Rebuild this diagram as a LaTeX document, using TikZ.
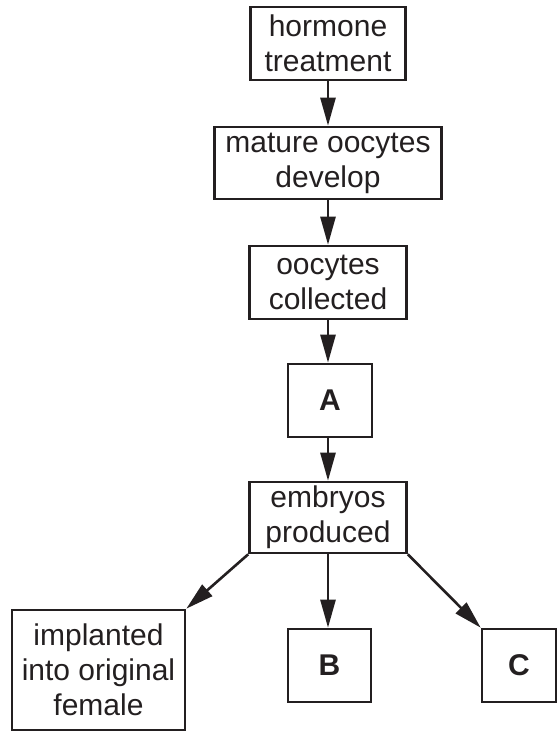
\documentclass[tikz,border=0pt]{standalone}
\usepackage{fontspec}
\setmainfont{Liberation Sans}
\usetikzlibrary{arrows.meta}
\definecolor{ink}{HTML}{231F20}
\begin{document}
\begin{tikzpicture}[x=1pt,y=-1pt,
            stagebox/.style={draw=ink, line width=2.6pt, text=ink, align=center, inner sep=0pt,
                font=\fontsize{30}{35}\selectfont},
            letterbox/.style={stagebox, minimum width=84pt, minimum height=73pt,
                font=\fontsize{30}{35}\selectfont\bfseries},
            flow/.style={draw=ink, line width=2.6pt, -{Triangle[length=28pt,width=15pt]}}]
            \useasboundingbox (0,0) rectangle (558,731);
            % main column
            \node[stagebox, minimum width=155pt, minimum height=73pt] (hormone) at (328,43.5) {hormone\\treatment};
            \node[stagebox, minimum width=227pt, minimum height=72pt] (mature) at (328,163) {mature oocytes\\develop};
            \node[stagebox, minimum width=157pt, minimum height=73pt] (collected) at (328,282.5) {oocytes\\collected};
            \node[letterbox] (A) at (330,400.5) {A};
            \node[stagebox, minimum width=157pt, minimum height=71pt] (embryos) at (328,517.5) {embryos\\produced};
            % branches
            \node[stagebox, minimum width=173pt, minimum height=120pt] (implanted) at (98.5,670) {implanted\\into original\\female};
            \node[letterbox, minimum width=83pt] (B) at (329.5,665.5) {B};
            \node[letterbox, minimum width=74pt] (C) at (519,665.5) {C};
            \draw[flow] (hormone.south) -- (mature.north);
            \draw[flow] (mature.south) -- (collected.north);
            \draw[flow] (collected.south) -- (collected.south |- A.north);
            \draw[flow] (collected.south |- A.south) -- (embryos.north);
            \draw[flow] (embryos.south west) -- (implanted.north east);
            \draw[flow] (embryos.south) -- (embryos.south |- B.north);
            \draw[flow] (embryos.south east) -- (C.north west);
\end{tikzpicture}
\end{document}
